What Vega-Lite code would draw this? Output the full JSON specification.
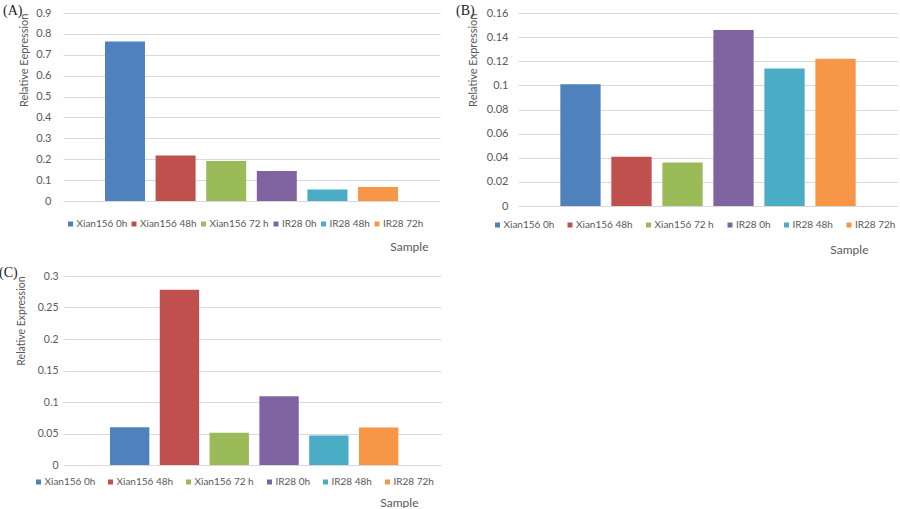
{
  "$schema": "https://vega.github.io/schema/vega-lite/v6.json",
  "padding": {"left": -1, "top": 4, "right": 0, "bottom": 0},
  "background": "white",
  "config": {
    "view": {"stroke": null},
    "font": "Lato",
    "axis": {"labelFont": "Lato", "titleFont": "Lato", "labelColor": "#595959", "titleColor": "#595959", "titleFontWeight": "normal"},
    "legend": {"labelFont": "Lato", "labelColor": "#595959", "labelFontSize": 10, "symbolType": "square", "symbolSize": 25, "symbolStrokeWidth": 0, "labelOffset": 1, "orient": "none", "direction": "horizontal", "title": null},
    "title": {"font": "Liberation Serif", "fontSize": 14, "fontWeight": "normal", "color": "#222222", "anchor": "start", "frame": "group"}
  },
  "data": {"values": [
    {"panel": "A", "sample": "Xian156 0h", "value": 0.764},
    {"panel": "A", "sample": "Xian156 48h", "value": 0.218},
    {"panel": "A", "sample": "Xian156 72 h", "value": 0.191},
    {"panel": "A", "sample": "IR28 0h", "value": 0.144},
    {"panel": "A", "sample": "IR28 48h", "value": 0.055},
    {"panel": "A", "sample": "IR28 72h", "value": 0.067},
    {"panel": "B", "sample": "Xian156 0h", "value": 0.101},
    {"panel": "B", "sample": "Xian156 48h", "value": 0.0408},
    {"panel": "B", "sample": "Xian156 72 h", "value": 0.0361},
    {"panel": "B", "sample": "IR28 0h", "value": 0.146},
    {"panel": "B", "sample": "IR28 48h", "value": 0.114},
    {"panel": "B", "sample": "IR28 72h", "value": 0.122},
    {"panel": "C", "sample": "Xian156 0h", "value": 0.060},
    {"panel": "C", "sample": "Xian156 48h", "value": 0.278},
    {"panel": "C", "sample": "Xian156 72 h", "value": 0.051},
    {"panel": "C", "sample": "IR28 0h", "value": 0.109},
    {"panel": "C", "sample": "IR28 48h", "value": 0.047},
    {"panel": "C", "sample": "IR28 72h", "value": 0.0596}
  ]},
  "concat": [
    {
      "hconcat": [
        {
          "title": {"text": "(A)", "dx": -60, "offset": -11},
          "width": 377, "height": 188,
          "transform": [{"filter": "datum.panel === 'A'"}],
          "mark": {"type": "bar"},
          "encoding": {
            "x": {"field": "sample", "type": "nominal", "sort": ["Xian156 0h", "Xian156 48h", "Xian156 72 h", "IR28 0h", "IR28 48h", "IR28 72h"],
              "scale": {"paddingInner": 0.21, "paddingOuter": 0.83},
              "axis": {"labels": false, "ticks": false, "domain": false, "title": "Sample", "titleX": 365, "titleY": 45, "titleAlign": "right", "titleBaseline": "middle", "titleFontSize": 12}},
            "y": {"field": "value", "type": "quantitative", "scale": {"domain": [0, 0.9], "nice": false},
              "axis": {"values": [0, 0.1, 0.2, 0.3, 0.4, 0.5, 0.6, 0.7, 0.8, 0.9], "format": "~g", "domain": false, "ticks": false, "gridColor": "#d9d9d9", "labelFontSize": 11, "labelPadding": 12, "title": "Relative Eepression", "titleFontSize": 11, "titleAnchor": "end", "titlePadding": 6}},
            "color": {"field": "sample", "type": "nominal",
              "scale": {"domain": ["Xian156 0h", "Xian156 48h", "Xian156 72 h", "IR28 0h", "IR28 48h", "IR28 72h"], "range": ["#4f81bd", "#c0504d", "#9bbb59", "#8064a2", "#4bacc6", "#f79646"]},
              "legend": {"legendX": 2.5, "legendY": 206, "columnPadding": 1.5}}
          }
        },
        {
          "title": {"text": "(B)", "dx": -62, "offset": -11},
          "width": 380, "height": 193,
          "transform": [{"filter": "datum.panel === 'B'"}],
          "mark": {"type": "bar"},
          "encoding": {
            "x": {"field": "sample", "type": "nominal", "sort": ["Xian156 0h", "Xian156 48h", "Xian156 72 h", "IR28 0h", "IR28 48h", "IR28 72h"],
              "scale": {"paddingInner": 0.21, "paddingOuter": 0.83},
              "axis": {"labels": false, "ticks": false, "domain": false, "title": "Sample", "titleX": 350, "titleY": 43, "titleAlign": "right", "titleBaseline": "middle", "titleFontSize": 12}},
            "y": {"field": "value", "type": "quantitative", "scale": {"domain": [0, 0.16], "nice": false},
              "axis": {"values": [0, 0.02, 0.04, 0.06, 0.08, 0.1, 0.12, 0.14, 0.16], "format": "~g", "domain": false, "ticks": false, "gridColor": "#d9d9d9", "labelFontSize": 11, "labelPadding": 10, "title": "Relative Expression", "titleFontSize": 11, "titleAnchor": "end", "titlePadding": 8}},
            "color": {"field": "sample", "type": "nominal",
              "scale": {"domain": ["Xian156 0h", "Xian156 48h", "Xian156 72 h", "IR28 0h", "IR28 48h", "IR28 72h"], "range": ["#4f81bd", "#c0504d", "#9bbb59", "#8064a2", "#4bacc6", "#f79646"]},
              "legend": {"legendX": -25.5, "legendY": 207, "columnPadding": 10.5}}
          }
        }
      ],
      "bounds": "flush",
      "spacing": 78,
      "resolve": {"scale": {"color": "independent", "y": "independent", "x": "independent"}}
    },
    {
      "title": {"text": "(C)", "dx": -64, "offset": -9},
      "width": 378, "height": 189,
      "transform": [{"filter": "datum.panel === 'C'"}],
      "mark": {"type": "bar"},
      "encoding": {
        "x": {"field": "sample", "type": "nominal", "sort": ["Xian156 0h", "Xian156 48h", "Xian156 72 h", "IR28 0h", "IR28 48h", "IR28 72h"],
          "scale": {"paddingInner": 0.21, "paddingOuter": 0.9, "align": 0.524},
          "axis": {"labels": false, "ticks": false, "domain": false, "title": "Sample", "titleX": 355, "titleY": 37, "titleAlign": "right", "titleBaseline": "middle", "titleFontSize": 12}},
        "y": {"field": "value", "type": "quantitative", "scale": {"domain": [0, 0.3], "nice": false},
          "axis": {"values": [0, 0.05, 0.1, 0.15, 0.2, 0.25, 0.3], "format": "~g", "domain": false, "ticks": false, "gridColor": "#d9d9d9", "labelFontSize": 10.5, "labelPadding": 5, "title": "Relative Expression", "titleFontSize": 10.5, "titleAnchor": "end", "titlePadding": 11}},
        "color": {"field": "sample", "type": "nominal",
          "scale": {"domain": ["Xian156 0h", "Xian156 48h", "Xian156 72 h", "IR28 0h", "IR28 48h", "IR28 72h"], "range": ["#4f81bd", "#c0504d", "#9bbb59", "#8064a2", "#4bacc6", "#f79646"]},
          "legend": {"legendX": -29.5, "legendY": 201, "columnPadding": 10}}
      }
    }
  ],
  "columns": 1,
  "align": "none",
  "spacing": 11,
  "resolve": {"scale": {"color": "independent", "y": "independent", "x": "independent"}}
}
